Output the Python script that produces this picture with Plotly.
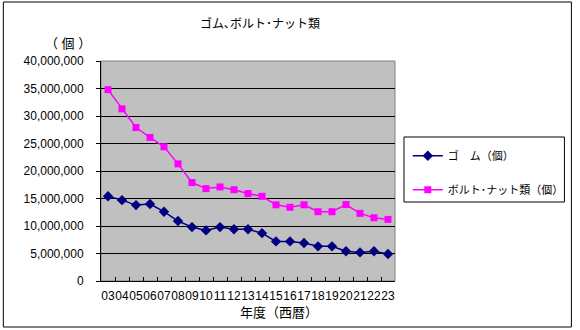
import plotly.graph_objects as go

years = ["03","04","05","06","07","08","09","10","11","12","13","14","15","16","17","18","19","20","21","22","23"]
rubber = [15400000,14700000,13800000,14000000,12600000,10900000,9800000,9200000,9800000,9400000,9400000,8700000,7200000,7200000,6900000,6300000,6300000,5400000,5200000,5400000,4900000]
bolts = [34800000,31300000,27900000,26100000,24400000,21300000,17900000,16800000,17100000,16600000,15900000,15400000,13850000,13400000,13850000,12600000,12600000,13900000,12300000,11500000,11200000]
ytick_vals = [0,5000000,10000000,15000000,20000000,25000000,30000000,35000000,40000000]
ytick_text = ["0","5,000,000","10,000,000","15,000,000","20,000,000","25,000,000","30,000,000","35,000,000","40,000,000"]

FONT = "Liberation Sans, Noto Sans CJK JP, sans-serif"

fig = go.Figure()
fig.add_trace(go.Scatter(x=years, y=rubber, mode="lines+markers", name="ゴ　ム（個）",
                         line=dict(color="#000080", width=1.5),
                         marker=dict(symbol="diamond", size=8, color="#000080"),
                         legendgroup="a"))
fig.add_trace(go.Scatter(x=years, y=bolts, mode="lines+markers", name="ボルト･ナット類（個）",
                         line=dict(color="#FF00FF", width=1.5),
                         marker=dict(symbol="square", size=7, color="#FF00FF"),
                         legendgroup="b"))

fig.update_layout(
    width=580, height=330,
    margin=dict(l=101, r=184, t=61, b=49),
    paper_bgcolor="white", plot_bgcolor="#C0C0C0",
    font=dict(family=FONT, size=11, color="black"),
    showlegend=True,
    legend=dict(x=1.04, y=0.635, xanchor="left", yanchor="top",
                bgcolor="rgba(0,0,0,0)", borderwidth=0,
                font=dict(size=11), traceorder="grouped", tracegroupgap=15,
                itemwidth=30),
    xaxis=dict(type="category", tickmode="array", tickvals=years, ticktext=years,
               range=[-0.5, len(years) - 0.5],
               tickangle=0, showgrid=False, showline=True, linecolor="black", linewidth=1,
               ticks="inside", tickson="boundaries", ticklen=4, tickcolor="black",
               tickfont=dict(size=12), ticklabelstandoff=4, zeroline=False, mirror=False),
    yaxis=dict(range=[0, 40000000], tickmode="array", tickvals=ytick_vals, ticktext=ytick_text,
               showgrid=True, gridcolor="black", gridwidth=1,
               showline=True, linecolor="black", linewidth=1,
               ticks="outside", ticklen=4, tickcolor="black", zeroline=False,
               ticklabelstandoff=10, tickfont=dict(size=12)),
    shapes=[
        dict(type="rect", xref="paper", yref="paper", x0=0, x1=1, y0=0, y1=1,
             line=dict(color="#808080", width=1), layer="below"),
        dict(type="rect", xref="paper", yref="paper",
             x0=(3-101)/295, x1=(573-101)/295, y0=(281-327)/220, y1=(281-2)/220,
             line=dict(color="black", width=1)),
        dict(type="rect", xref="paper", yref="paper",
             x0=(405-101)/295, x1=(566-101)/295, y0=(281-202)/220, y1=(281-137)/220,
             line=dict(color="black", width=1)),
    ],
    annotations=[
        dict(text="ゴム､ボルト･ナット類", xref="paper", yref="paper",
             x=(261-101)/295, y=(281-23)/220, showarrow=False,
             xanchor="center", yanchor="middle", font=dict(size=12)),
        dict(text="（ 個 ）", xref="paper", yref="paper",
             x=(68-101)/295, y=(281-43)/220, showarrow=False,
             xanchor="center", yanchor="middle", font=dict(size=13)),
        dict(text="年度（西暦）", xref="paper", yref="paper",
             x=(280-101)/295, y=(281-312)/220, showarrow=False,
             xanchor="center", yanchor="middle", font=dict(size=13)),
    ],
)

fig.write_html("out.html")
